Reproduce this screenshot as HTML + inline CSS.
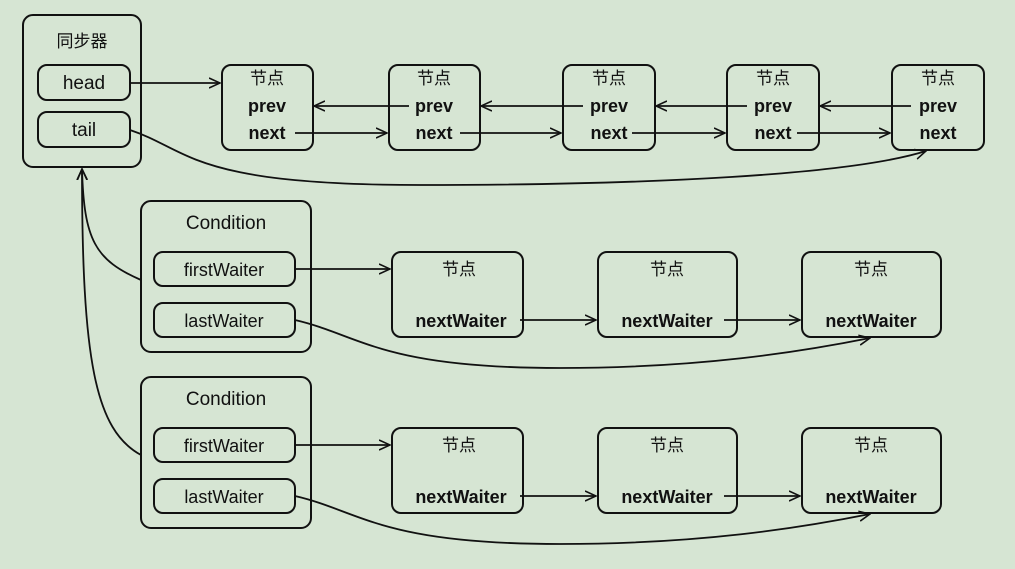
<!DOCTYPE html>
<html><head><meta charset="utf-8"><style>
html,body{margin:0;padding:0;background:#d6e5d3;}
svg{display:block}
text{font-family:"Liberation Sans","Noto Sans CJK SC",sans-serif;fill:#111;}
.b{font-weight:bold;font-size:18px}
</style></head><body>
<svg width="1015" height="569" viewBox="0 0 1015 569" xmlns="http://www.w3.org/2000/svg">
<defs>
<marker id="a" viewBox="0 0 12 12" refX="11" refY="6" markerWidth="12" markerHeight="12" markerUnits="userSpaceOnUse" orient="auto">
<path d="M0,1 L11,6 L0,11" fill="none" stroke="#111" stroke-width="1.6"/>
</marker>
</defs>
<g fill="none" stroke="#111" stroke-width="2">
<rect x="23" y="15" width="118" height="152" rx="10"/>
<rect x="38" y="65" width="92" height="35" rx="9"/>
<rect x="38" y="112" width="92" height="35" rx="9"/>
<rect x="222" y="65" width="91" height="85" rx="9"/>
<rect x="389" y="65" width="91" height="85" rx="9"/>
<rect x="563" y="65" width="92" height="85" rx="9"/>
<rect x="727" y="65" width="92" height="85" rx="9"/>
<rect x="892" y="65" width="92" height="85" rx="9"/>
<rect x="141" y="201" width="170" height="151" rx="10"/>
<rect x="154" y="252" width="141" height="34" rx="9"/>
<rect x="154" y="303" width="141" height="34" rx="9"/>
<rect x="141" y="377" width="170" height="151" rx="10"/>
<rect x="154" y="428" width="141" height="34" rx="9"/>
<rect x="154" y="479" width="141" height="34" rx="9"/>
<rect x="392" y="252" width="131" height="85" rx="9"/>
<rect x="598" y="252" width="139" height="85" rx="9"/>
<rect x="802" y="252" width="139" height="85" rx="9"/>
<rect x="392" y="428" width="131" height="85" rx="9"/>
<rect x="598" y="428" width="139" height="85" rx="9"/>
<rect x="802" y="428" width="139" height="85" rx="9"/>
</g>
<g fill="none" stroke="#111" stroke-width="1.8" marker-end="url(#a)">
<line x1="130" y1="83" x2="220" y2="83"/>
<line x1="295" y1="133" x2="387" y2="133"/>
<line x1="460" y1="133" x2="561" y2="133"/>
<line x1="632" y1="133" x2="725" y2="133"/>
<line x1="797" y1="133" x2="890" y2="133"/>
<line x1="409" y1="106" x2="314" y2="106"/>
<line x1="583" y1="106" x2="481" y2="106"/>
<line x1="747" y1="106" x2="656" y2="106"/>
<line x1="911" y1="106" x2="820" y2="106"/>
<path d="M130,130 C190,150 190,185 420,185 C650,185 850,175 926,151"/>
<line x1="295" y1="269" x2="390" y2="269"/>
<line x1="520" y1="320" x2="596" y2="320"/>
<line x1="724" y1="320" x2="800" y2="320"/>
<line x1="295" y1="445" x2="390" y2="445"/>
<line x1="520" y1="496" x2="596" y2="496"/>
<line x1="724" y1="496" x2="800" y2="496"/>
<path d="M295,320 C360,335 380,368 560,368 C700,368 800,352 870,338"/>
<path d="M295,496 C360,511 380,544 560,544 C700,544 800,528 870,514"/>
<path d="M141,280 C95,260 84,240 82,169"/>
<path d="M141,455 C95,430 82,360 82,169"/>
</g>
<g font-size="17" text-anchor="middle">
<text x="82" y="47">同步器</text>
<text x="84" y="89" font-size="19">head</text>
<text x="84" y="136" font-size="19">tail</text>
<text x="226" y="229" font-size="19">Condition</text>
<text x="224" y="276" font-size="18">firstWaiter</text>
<text x="224" y="327" font-size="18">lastWaiter</text>
<text x="226" y="405" font-size="19">Condition</text>
<text x="224" y="452" font-size="18">firstWaiter</text>
<text x="224" y="503" font-size="18">lastWaiter</text>
</g>
<g font-size="17" text-anchor="middle">
<text x="267" y="84">节点</text><text x="267" y="112" class="b">prev</text><text x="267" y="139" class="b">next</text>
<text x="434" y="84">节点</text><text x="434" y="112" class="b">prev</text><text x="434" y="139" class="b">next</text>
<text x="609" y="84">节点</text><text x="609" y="112" class="b">prev</text><text x="609" y="139" class="b">next</text>
<text x="773" y="84">节点</text><text x="773" y="112" class="b">prev</text><text x="773" y="139" class="b">next</text>
<text x="938" y="84">节点</text><text x="938" y="112" class="b">prev</text><text x="938" y="139" class="b">next</text>
<text x="459" y="275">节点</text><text x="461" y="327" class="b">nextWaiter</text>
<text x="667" y="275">节点</text><text x="667" y="327" class="b">nextWaiter</text>
<text x="871" y="275">节点</text><text x="871" y="327" class="b">nextWaiter</text>
<text x="459" y="451">节点</text><text x="461" y="503" class="b">nextWaiter</text>
<text x="667" y="451">节点</text><text x="667" y="503" class="b">nextWaiter</text>
<text x="871" y="451">节点</text><text x="871" y="503" class="b">nextWaiter</text>
</g>
</svg>
</body></html>
